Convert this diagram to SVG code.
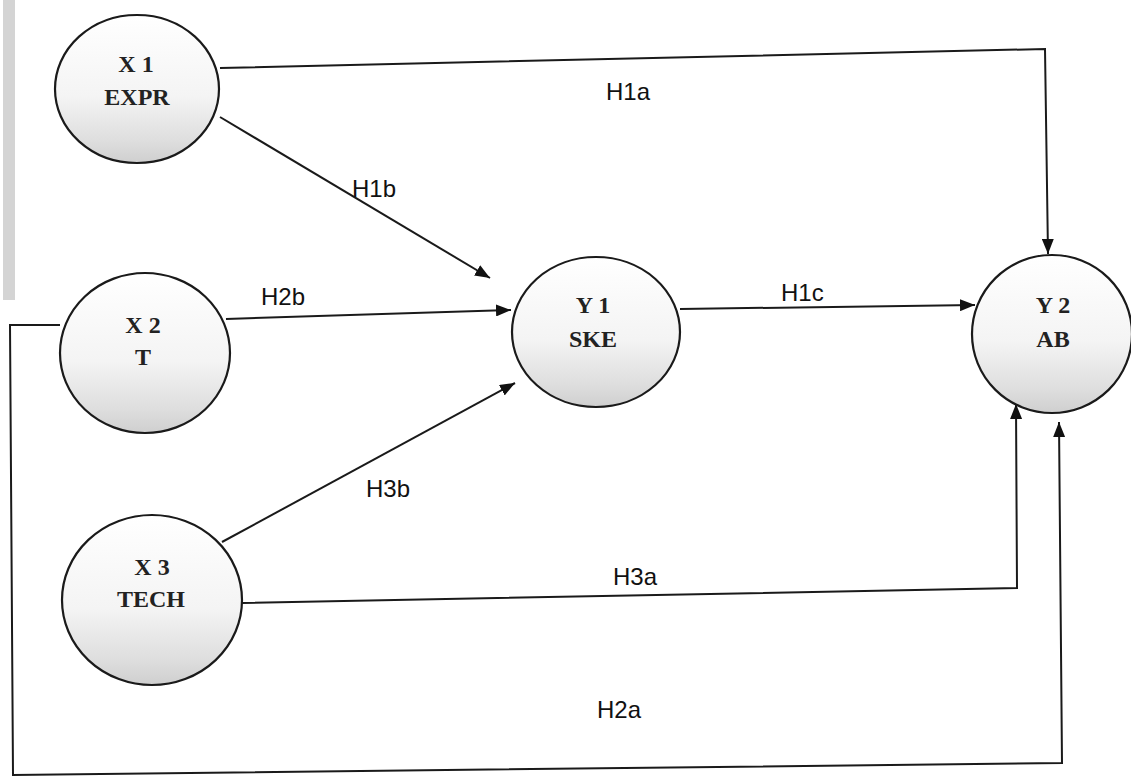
<svg xmlns="http://www.w3.org/2000/svg" width="1131" height="777" viewBox="0 0 1131 777">
  <defs>
    <marker id="arrow" markerUnits="userSpaceOnUse" markerWidth="16" markerHeight="12" refX="15" refY="6" orient="auto">
      <path d="M0,0 L15,6 L0,12 z" fill="#111"/>
    </marker>
    <linearGradient id="shade" x1="0" y1="0" x2="0" y2="1">
      <stop offset="0" stop-color="#ffffff"/>
      <stop offset="0.55" stop-color="#f4f4f4"/>
      <stop offset="0.85" stop-color="#dedede"/>
      <stop offset="1" stop-color="#cfcfcf"/>
    </linearGradient>
    <style>
      .node { fill: url(#shade); stroke: #1a1a1a; stroke-width: 2.2; }
      .ntext { font-family: "Liberation Serif", "Times New Roman", serif; font-weight: bold; font-size: 24px; fill: #222; text-anchor: middle; }
      .conn { fill: none; stroke: #1a1a1a; stroke-width: 2; }
      .lbl { font-family: "Liberation Sans", Arial, sans-serif; font-size: 24px; fill: #111; }
    </style>
  </defs>

  <rect width="1131" height="777" fill="#ffffff"/>
  <!-- grey band along the left margin -->
  <rect x="3" y="0" width="12" height="300" fill="#d4d4d4"/>

  <g id="connectors">
    <polyline class="conn" points="220,68 1045,49 1048,254" marker-end="url(#arrow)"/>
    <line class="conn" x1="220" y1="117" x2="490" y2="278" marker-end="url(#arrow)"/>
    <line class="conn" x1="226" y1="319" x2="511" y2="310" marker-end="url(#arrow)"/>
    <line class="conn" x1="680" y1="309" x2="975" y2="305" marker-end="url(#arrow)"/>
    <line class="conn" x1="222" y1="542" x2="515" y2="383" marker-end="url(#arrow)"/>
    <polyline class="conn" points="242,603 1017,588 1016,404" marker-end="url(#arrow)"/>
    <polyline class="conn" points="60,325 10,325 13,775 1062,763 1059,422" marker-end="url(#arrow)"/>
    <text class="lbl" x="606" y="100">H1a</text>
    <text class="lbl" x="352" y="197">H1b</text>
    <text class="lbl" x="261" y="305">H2b</text>
    <text class="lbl" x="781" y="301">H1c</text>
    <text class="lbl" x="366" y="497">H3b</text>
    <text class="lbl" x="613" y="585">H3a</text>
    <text class="lbl" x="597" y="718">H2a</text>
  </g>

  <g id="x1">
    <ellipse class="node" cx="137" cy="89" rx="82" ry="74"/>
    <text class="ntext" x="136" y="72">X 1</text>
    <text class="ntext" x="137" y="105">EXPR</text>
  </g>

  <g id="x2">
    <ellipse class="node" cx="145" cy="353" rx="85" ry="80"/>
    <text class="ntext" x="143" y="333">X 2</text>
    <text class="ntext" x="143" y="365">T</text>
  </g>

  <g id="x3">
    <ellipse class="node" cx="152" cy="600" rx="90" ry="85"/>
    <text class="ntext" x="152" y="575">X 3</text>
    <text class="ntext" x="151" y="607">TECH</text>
  </g>

  <g id="y1">
    <ellipse class="node" cx="596" cy="332" rx="84" ry="75"/>
    <text class="ntext" x="593" y="313">Y 1</text>
    <text class="ntext" x="593" y="347">SKE</text>
  </g>

  <g id="y2">
    <ellipse class="node" cx="1052" cy="334" rx="80" ry="79"/>
    <text class="ntext" x="1053" y="313">Y 2</text>
    <text class="ntext" x="1053" y="347">AB</text>
  </g>
</svg>
